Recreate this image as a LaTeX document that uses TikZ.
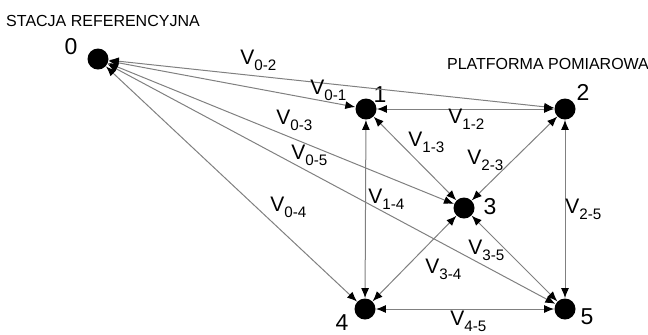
\documentclass[tikz,border=0pt]{standalone}
\usepackage{fontspec}
\setmainfont{Liberation Sans}
\usepackage{tikz}
\usetikzlibrary{arrows.meta}
\newcommand\vsub[1]{V\raisebox{-3pt}{\fontsize{7.6}{8}\selectfont #1}}
\tikzset{
	point/.style = {circle,fill=black,inner sep=0pt,minimum size=10.5pt},
	link/.style = {draw=gray,line width=0.5pt,{Latex[length=5pt,width=4pt,color=black]}-{Latex[length=5pt,width=4pt,color=black]}},
	vlab/.style = {anchor=base west,inner sep=0pt,font=\fontsize{10.5}{12}\selectfont},
	num/.style = {inner sep=0pt,font=\fontsize{11.5}{13}\selectfont},
	caption/.style = {inner sep=0pt,font=\fontsize{8}{9}\selectfont}
}
\begin{document}
\begin{tikzpicture}[x=0.5pt,y=-0.5pt]
	\useasboundingbox (0,0) rectangle (648,334);
	\node[point] (n0) at (98,59) {};
	\node[point] (n1) at (366,109) {};
	\node[point] (n2) at (565,109) {};
	\node[point] (n3) at (464,208) {};
	\node[point] (n4) at (365,309) {};
	\node[point] (n5) at (565,309) {};
	\node[num] (l0) at (71,47) {0};
	\node[num] (l1) at (380,95) {1};
	\node[num] (l2) at (583,92) {2};
	\node[num] (l3) at (490,207) {3};
	\node[num] (l4) at (342,323) {4};
	\node[num] (l5) at (587,317) {5};
	\node[caption] (ref) at (103,21) {STACJA REFERENCYJNA};
	\node[caption] (plat) at (548,64) {PLATFORMA POMIAROWA};
	\draw[link] (n0) -- (n2);
	\draw[link] (n0) -- (n1);
	\draw[link] (n0) -- (n3);
	\draw[link] (n0) -- (n5);
	\draw[link] (n0) -- (n4);
	\draw[link] (n1) -- (n2);
	\draw[link] (n1) -- (n3);
	\draw[link] (n1) -- (n4);
	\draw[link] (n2) -- (n3);
	\draw[link] (n2) -- (n5);
	\draw[link] (n3) -- (n4);
	\draw[link] (n3) -- (n5);
	\draw[link] (n4) -- (n5);
	\node[vlab] (v02) at (240,64) {\vsub{0-2}};
	\node[vlab] (v01) at (310,94) {\vsub{0-1}};
	\node[vlab] (v03) at (276,124) {\vsub{0-3}};
	\node[vlab] (v05) at (291,159) {\vsub{0-5}};
	\node[vlab] (v04) at (270,211) {\vsub{0-4}};
	\node[vlab] (v12) at (448,123) {\vsub{1-2}};
	\node[vlab] (v13) at (408,146) {\vsub{1-3}};
	\node[vlab] (v23) at (467,164) {\vsub{2-3}};
	\node[vlab] (v14) at (368,203) {\vsub{1-4}};
	\node[vlab] (v25) at (565,213) {\vsub{2-5}};
	\node[vlab] (v34) at (425,273) {\vsub{3-4}};
	\node[vlab] (v35) at (468,254) {\vsub{3-5}};
	\node[vlab] (v45) at (450,325) {\vsub{4-5}};
\end{tikzpicture}
\end{document}
